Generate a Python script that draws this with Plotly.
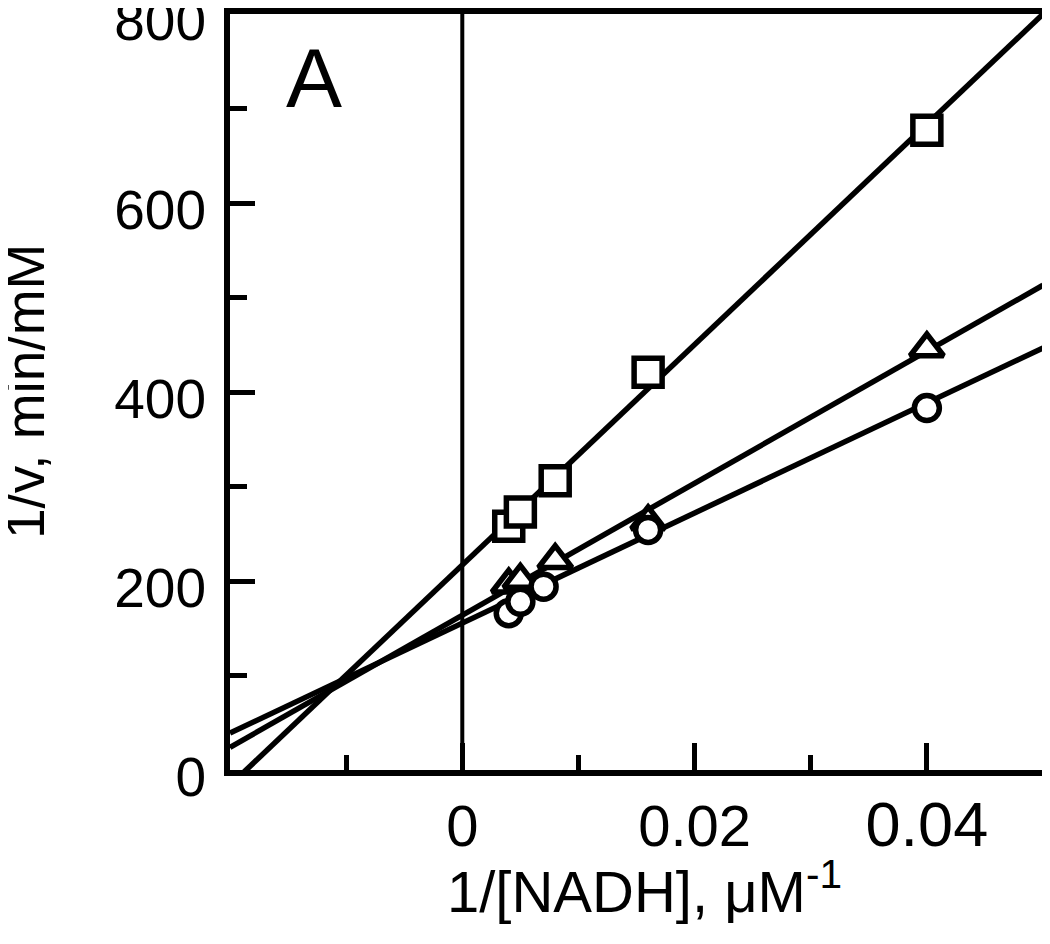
import plotly.graph_objects as go

# ---- data ----
x_square = [0.004, 0.005, 0.008, 0.016, 0.04]
y_square = [258, 273, 306, 421, 677]

x_triangle = [0.004, 0.005, 0.008, 0.016, 0.04]
y_triangle = [196, 201, 222, 263, 446]

x_circle = [0.004, 0.005, 0.007, 0.016, 0.04]
y_circle = [166, 178, 194, 254, 383]

# fitted lines (slope, intercept) for each series
fit_square = (11658, 217.0)
fit_triangle = (6986, 163.7)
fit_circle = (5823, 155.5)

x_range = [-0.02, 0.05]
y_range = [0, 800]
x_ticks = [0, 0.02, 0.04]
x_tick_text = ["0", "0.02", "<span style='font-size:63px'>0.04</span>"]
x_minor = [-0.01, 0.01, 0.03]
y_ticks = [0, 200, 400, 600, 800]
y_minor = [100, 300, 500, 700]

FONT = "Arial, Liberation Sans, sans-serif"

fig = go.Figure()

# zero line
fig.add_trace(go.Scatter(x=[0, 0], y=y_range, mode="lines",
                         line=dict(color="black", width=4), showlegend=False,
                         hoverinfo="skip"))

# fit lines
for slope, icpt in (fit_square, fit_triangle, fit_circle):
    ys = [icpt + slope * xv for xv in x_range]
    fig.add_trace(go.Scatter(x=x_range, y=ys, mode="lines",
                             line=dict(color="black", width=5.5),
                             showlegend=False))

# markers
fig.add_trace(go.Scatter(x=x_square, y=y_square, mode="markers",
                         marker=dict(symbol="square", size=28, color="white",
                                     line=dict(color="black", width=5.5)),
                         showlegend=False))
fig.add_trace(go.Scatter(x=x_triangle, y=y_triangle, mode="markers",
                         marker=dict(symbol="triangle-up", size=29, color="white",
                                     line=dict(color="black", width=5.5)),
                         showlegend=False))
fig.add_trace(go.Scatter(x=x_circle, y=y_circle, mode="markers",
                         marker=dict(symbol="circle", size=25, color="white",
                                     line=dict(color="black", width=5.5)),
                         showlegend=False))

fig.update_layout(
    width=1042, height=936,
    margin=dict(l=222, r=7, t=6, b=174),
    paper_bgcolor="white", plot_bgcolor="white",
    font=dict(family=FONT, color="black"),
    xaxis=dict(range=x_range, tickmode="array", tickvals=x_ticks, ticktext=x_tick_text,
               automargin=False,
               ticks="inside", ticklen=27, tickwidth=5, tickcolor="black",
               showline=True, linewidth=6, linecolor="black", mirror=True,
               showgrid=False, zeroline=False,
               tickfont=dict(size=58, family=FONT),
               ticklabelstandoff=0, ticklabeloverflow="allow",
               minor=dict(tickmode="array", tickvals=x_minor, ticks="inside",
                          ticklen=15, tickwidth=5, tickcolor="black", showgrid=False)),
    yaxis=dict(range=y_range, tickmode="array", tickvals=y_ticks,
               automargin=False,
               ticks="inside", ticklen=25, tickwidth=5, tickcolor="black",
               showline=True, linewidth=6, linecolor="black", mirror=True,
               showgrid=False, zeroline=False,
               tickfont=dict(size=55, family=FONT),
               ticklabelstandoff=7, ticklabelshift=7, ticklabeloverflow="allow",
               minor=dict(tickmode="array", tickvals=y_minor, ticks="inside",
                          ticklen=17, tickwidth=5, tickcolor="black", showgrid=False)),
    annotations=[
        dict(text="A", xref="paper", yref="paper", x=0.103, y=0.915,
             xanchor="center", yanchor="middle", showarrow=False,
             font=dict(size=84, family=FONT)),
        dict(text="1/[NADH], μM<sup>-1</sup>", xref="paper", yref="paper",
             x=0.51, y=-0.155, xanchor="center", yanchor="middle", showarrow=False,
             font=dict(size=58, family=FONT)),
        dict(text="1/v, min/mM", xref="paper", yref="paper",
             x=-0.252, y=0.5, xanchor="center", yanchor="middle", textangle=-90,
             showarrow=False, font=dict(size=55, family=FONT)),
    ],
)

fig.write_html("out.html")
